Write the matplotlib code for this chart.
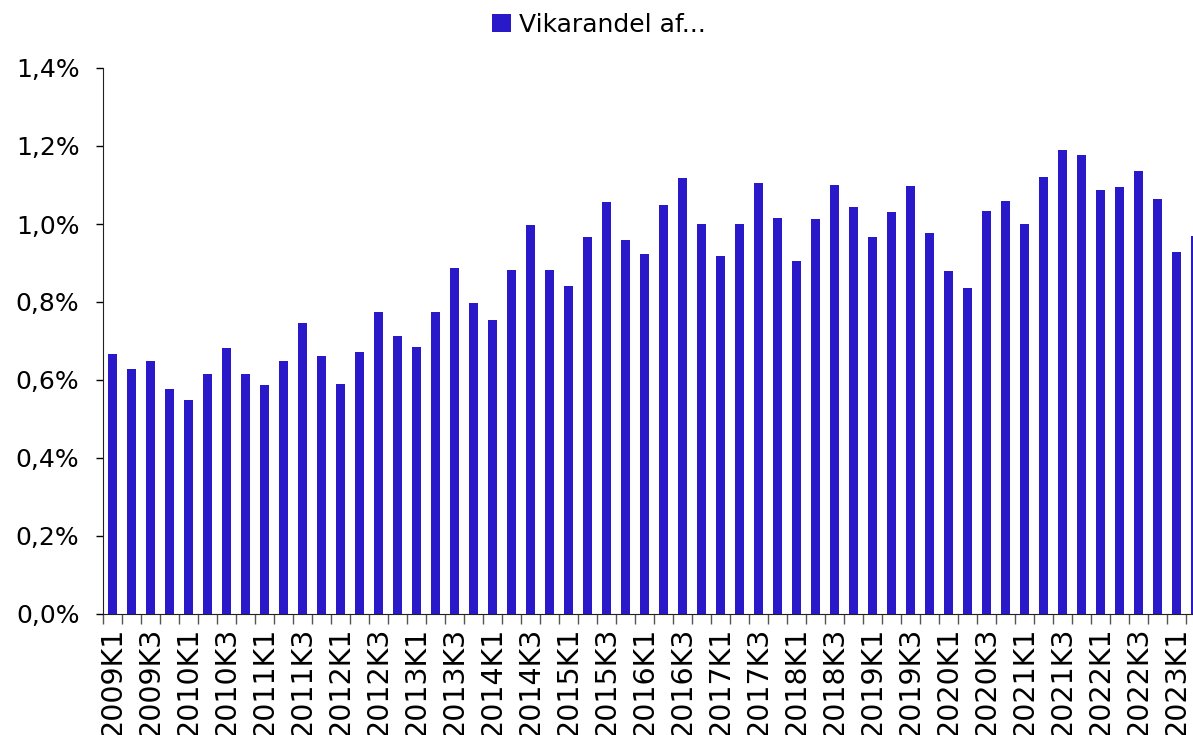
import numpy as np
import matplotlib.pyplot as plt
from matplotlib.ticker import FuncFormatter, FixedLocator

# Quarter labels 2009K1 .. 2023K2
quarters = [f"{y}K{q}" for y in range(2009, 2024) for q in range(1, 5)][:58]

# Vikarandel (%)
vikarandel = [
    0.666, 0.628, 0.650, 0.576, 0.548, 0.615, 0.682, 0.616,
    0.586, 0.648, 0.746, 0.661, 0.589, 0.671, 0.775, 0.713,
    0.685, 0.774, 0.887, 0.797, 0.754, 0.883, 0.997, 0.883,
    0.841, 0.966, 1.057, 0.959, 0.922, 1.049, 1.117, 0.999,
    0.918, 1.000, 1.104, 1.015, 0.905, 1.012, 1.100, 1.043,
    0.967, 1.031, 1.097, 0.978, 0.879, 0.835, 1.033, 1.058,
    1.001, 1.120, 1.190, 1.178, 1.086, 1.095, 1.136, 1.065,
    0.927, 0.968,
]

bar_color = '#2a19c8'
plt.rcParams['font.family'] = ['DejaVu Sans']

fig = plt.figure(figsize=(11.93, 7.35), dpi=100)
# axes runs a little past the right edge, so the last bar is cut off
ax = fig.add_axes([103 / 1193, 121 / 735, 1102 / 1193, 546 / 735])

x = np.arange(len(quarters))
ax.bar(x, vikarandel, width=0.48, color=bar_color, label='Vikarandel af...')

ax.set_xlim(-0.5, len(quarters) - 0.5)
ax.set_ylim(0, 1.4)
ax.set_yticks(np.arange(0, 1.41, 0.2))
ax.yaxis.set_major_formatter(FuncFormatter(lambda v, p: f"{v:.1f}%".replace('.', ',')))

# labels on every second quarter, tick marks between the bars
ax.set_xticks(x[::2])
ax.set_xticklabels(quarters[::2], rotation=90, va='top')
ax.xaxis.set_minor_locator(FixedLocator(np.arange(-0.5, len(quarters), 1)))
ax.tick_params(axis='x', which='major', length=0, pad=9, labelsize=20.5)
ax.tick_params(axis='x', which='minor', length=7, width=1, color='#555555')
ax.tick_params(axis='y', length=5, width=1, pad=12, labelsize=18)

for s in ['top', 'right']:
    ax.spines[s].set_visible(False)
ax.spines['left'].set_color('#222222')
ax.spines['bottom'].set_color('#222222')

fig.legend(loc='center', bbox_to_anchor=(0.502, 0.966), frameon=False,
           fontsize=18, handlelength=0.75, handleheight=0.75, handletextpad=0.3)

plt.savefig('out.png', dpi=100)
